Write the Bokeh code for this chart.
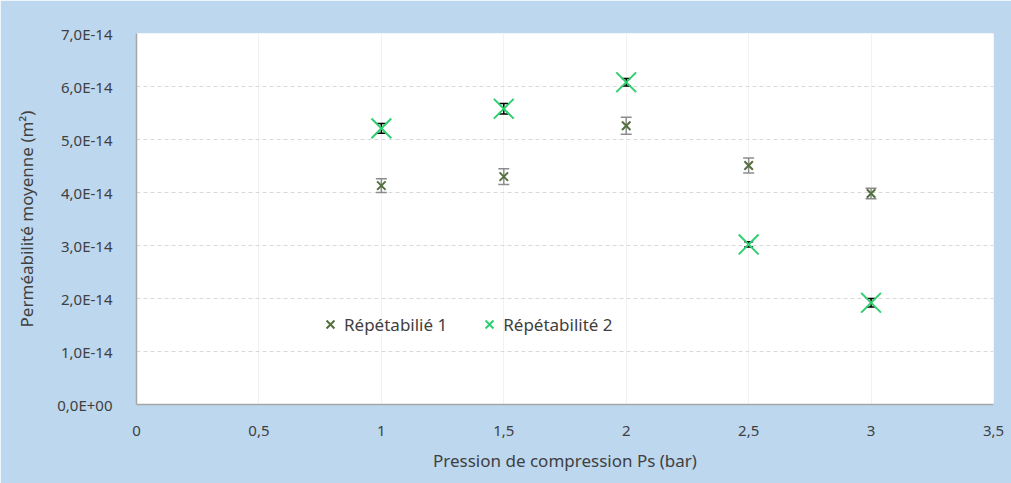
from bokeh.plotting import figure
from bokeh.models import (ColumnDataSource, Range1d, FixedTicker, CustomJSTickFormatter,
                          Whisker, TeeHead, Legend, LegendItem)
from bokeh.embed import file_html
from bokeh.resources import INLINE

# ---- data ----
pressure = [1.0, 1.5, 2.0, 2.5, 3.0]
rep1 = [4.13e-14, 4.30e-14, 5.26e-14, 4.51e-14, 3.98e-14]
rep1_err = [0.13e-14, 0.15e-14, 0.16e-14, 0.14e-14, 0.10e-14]
rep2 = [5.21e-14, 5.58e-14, 6.08e-14, 3.02e-14, 1.92e-14]
rep2_err = [0.09e-14, 0.10e-14, 0.07e-14, 0.05e-14, 0.08e-14]
series_names = ["Répétabilié 1", "Répétabilité 2"]
x_ticks = [0, 0.5, 1, 1.5, 2, 2.5, 3, 3.5]
y_ticks = [0, 1e-14, 2e-14, 3e-14, 4e-14, 5e-14, 6e-14, 7e-14]

FONT = "Noto Sans"
TXT = "#404040"
BG = "#bdd7ee"

src1 = ColumnDataSource(dict(x=pressure, y=rep1,
                             lo=[a - b for a, b in zip(rep1, rep1_err)],
                             hi=[a + b for a, b in zip(rep1, rep1_err)]))
src2 = ColumnDataSource(dict(x=pressure, y=rep2,
                             lo=[a - b for a, b in zip(rep2, rep2_err)],
                             hi=[a + b for a, b in zip(rep2, rep2_err)]))

p = figure(width=1011, height=483, output_backend="svg", toolbar_location=None,
           x_range=Range1d(0, 3.5), y_range=Range1d(0, 7e-14),
           min_border_left=136, min_border_right=18, min_border_top=33, min_border_bottom=79)
p.background_fill_color = "white"
p.border_fill_color = BG
p.outline_line_color = None

# grids
p.ygrid.grid_line_color = "#d9d9d9"
p.ygrid.grid_line_dash = "4 3"
p.ygrid.grid_line_width = 1
p.xgrid.grid_line_color = "#f2f2f2"
p.xgrid.grid_line_width = 1

# axes
for ax in (p.xaxis[0], p.yaxis[0]):
    ax.axis_line_color = "#a6a6a6"
    ax.axis_line_width = 1.5
    ax.major_tick_line_color = None
    ax.minor_tick_line_color = None
    ax.major_label_text_font = FONT
    ax.major_label_text_font_size = "15px"
    ax.major_label_text_color = TXT
    ax.axis_label_text_font = FONT
    ax.axis_label_text_font_size = "17px"
    ax.axis_label_text_font_style = "normal"
    ax.axis_label_text_color = TXT

p.xaxis.ticker = FixedTicker(ticks=x_ticks)
p.yaxis.ticker = FixedTicker(ticks=y_ticks)
p.xaxis.formatter = CustomJSTickFormatter(code="return String(Math.round(tick*10)/10).replace('.', ',');")
p.yaxis.formatter = CustomJSTickFormatter(code="""
    if (tick == 0) return '0,0E+00';
    const s = tick.toExponential(1);
    const parts = s.split('e');
    let e = parseInt(parts[1]);
    const sign = e < 0 ? '-' : '+';
    e = Math.abs(e);
    const es = (e < 10 ? '0' : '') + e;
    return parts[0].replace('.', ',') + 'E' + sign + es;
""")
p.xaxis.major_label_standoff = 15
p.yaxis.major_label_standoff = 18
p.xaxis.axis_label = "Pression de compression Ps (bar)"
p.yaxis.axis_label = "Perméabilité moyenne (m²)"
p.xaxis.axis_label_standoff = 10
p.yaxis.axis_label_standoff = 16

# error bars
w1 = Whisker(source=src1, base="x", lower="lo", upper="hi", line_color="#8c8c8c", line_width=1.5,
             upper_head=TeeHead(size=11, line_color="#8c8c8c", line_width=1.5),
             lower_head=TeeHead(size=11, line_color="#8c8c8c", line_width=1.5))
w2 = Whisker(source=src2, base="x", lower="lo", upper="hi", line_color="black", line_width=1.5,
             upper_head=TeeHead(size=9, line_color="black", line_width=1.5),
             lower_head=TeeHead(size=9, line_color="black", line_width=1.5))

r1 = p.scatter("x", "y", source=src1, marker="x", size=12, line_color="#55703f", line_width=2)
r2 = p.scatter("x", "y", source=src2, marker="x", size=28, line_color="#2fcf70", line_width=2)
p.add_layout(w1)
p.add_layout(w2)

legend = Legend(items=[LegendItem(label=series_names[0], renderers=[r1]),
                       LegendItem(label=series_names[1], renderers=[r2])],
                location=(180, 66), orientation="horizontal",
                background_fill_alpha=0, border_line_color=None,
                label_text_font=FONT, label_text_font_size="17px", label_text_color=TXT,
                glyph_width=28, glyph_height=28, label_standoff=0, spacing=28,
                padding=0, margin=0)
p.add_layout(legend)

open("out.html", "w").write(file_html(p, INLINE))
